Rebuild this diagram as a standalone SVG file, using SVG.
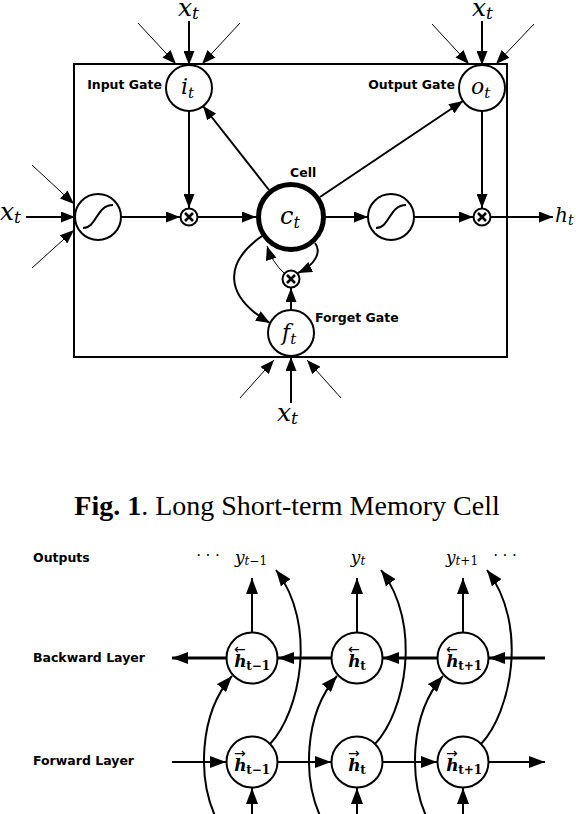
<svg xmlns="http://www.w3.org/2000/svg" width="576" height="814" viewBox="0 0 576 814">
<style>
.ln{stroke:#000;stroke-width:2;fill:none}
.th{stroke:#000;stroke-width:1;fill:none}
.bk{stroke:#000;stroke-width:3;fill:none}
.nd{stroke:#000;stroke-width:2;fill:#fff}
.lbl{font-family:"DejaVu Sans",sans-serif;font-weight:bold;font-size:12.5px;fill:#000}
.m{font-family:"DejaVu Serif",serif;font-style:italic;fill:#000}
.hb{font-family:"DejaVu Serif",serif;font-style:italic;font-weight:bold;font-size:17px;fill:#000}
.hs{font-family:"DejaVu Serif",serif;font-style:normal;font-weight:bold;font-size:12px}
.arw{font-family:"DejaVu Sans",sans-serif;font-style:normal;font-weight:normal;font-size:14px}
</style>
<defs>
<marker id="a" markerUnits="userSpaceOnUse" markerWidth="14" markerHeight="11" refX="14" refY="5.5" orient="auto"><path d="M0,0L14,5.5L0,11z" fill="#000"/></marker>
<marker id="b" markerUnits="userSpaceOnUse" markerWidth="16" markerHeight="12" refX="16" refY="6" orient="auto"><path d="M0,0L16,6L0,12z" fill="#000"/></marker>
<g id="mul"><circle r="8.5" fill="#fff" stroke="#000" stroke-width="2"/><path d="M-4,-4L4,4M4,-4L-4,4" stroke="#000" stroke-width="2.6"/></g>
</defs>
<rect width="576" height="814" fill="#fff"/>

<!-- LSTM cell -->
<rect id="box" x="74" y="64" width="433" height="293" fill="none" stroke="#000" stroke-width="2"/>

<g id="connectors-top">
<line class="ln" x1="189" y1="21" x2="189" y2="65" marker-end="url(#a)"/>
<line class="th" x1="138" y1="23" x2="176" y2="64" marker-end="url(#a)"/>
<line class="th" x1="240" y1="23" x2="202" y2="64" marker-end="url(#a)"/>
<line class="ln" x1="482" y1="21" x2="482" y2="65" marker-end="url(#a)"/>
<line class="th" x1="432" y1="24" x2="469" y2="64" marker-end="url(#a)"/>
<line class="th" x1="534" y1="24" x2="496" y2="64" marker-end="url(#a)"/>
<line class="ln" x1="26" y1="217" x2="75" y2="217" marker-end="url(#a)"/>
<line class="th" x1="32" y1="165" x2="74" y2="204" marker-end="url(#a)"/>
<line class="th" x1="32" y1="268" x2="74" y2="230" marker-end="url(#a)"/>
<line class="ln" x1="121" y1="217" x2="180" y2="217" marker-end="url(#a)"/>
<line class="ln" x1="189" y1="111" x2="189" y2="208" marker-end="url(#a)"/>
<line class="ln" x1="198" y1="217" x2="256" y2="217" marker-end="url(#a)"/>
<line class="ln" x1="269" y1="190" x2="203" y2="106" marker-end="url(#a)"/>
<line class="ln" x1="320" y1="197" x2="463" y2="101" marker-end="url(#a)"/>
<line class="ln" x1="326" y1="217" x2="368" y2="217" marker-end="url(#a)"/>
<line class="ln" x1="414" y1="217" x2="473" y2="217" marker-end="url(#a)"/>
<line class="ln" x1="482" y1="111" x2="482" y2="208" marker-end="url(#a)"/>
<line class="ln" x1="491" y1="217" x2="553" y2="217" marker-end="url(#a)"/>
<path class="ln" d="M262,236C225,262 222,295 270,323" marker-end="url(#a)"/>
<line class="ln" x1="291" y1="310" x2="291" y2="288" marker-end="url(#a)"/>
<path class="th" d="M284,273Q272,262 267,246" marker-end="url(#a)"/>
<path class="ln" d="M315,243C322,252 315,265 298,273" marker-end="url(#a)"/>
<line class="ln" x1="291" y1="403" x2="291" y2="357" marker-end="url(#a)"/>
<line class="th" x1="240" y1="398" x2="274" y2="360" marker-end="url(#a)"/>
<line class="th" x1="341" y1="398" x2="307" y2="360" marker-end="url(#a)"/>
</g>

<g id="input-gate"><circle class="nd" cx="189" cy="88" r="23"/><text class="m" x="181" y="94" font-size="22">i<tspan font-size="15" dy="4">t</tspan></text><text class="lbl" x="162" y="89" text-anchor="end">Input Gate</text></g>
<g id="output-gate"><circle class="nd" cx="482" cy="88" r="23"/><text class="m" x="471" y="94" font-size="22">o<tspan font-size="15" dy="4">t</tspan></text><text class="lbl" x="455" y="89" text-anchor="end">Output Gate</text></g>
<g id="sig-in"><circle class="nd" cx="98" cy="217" r="23"/><path class="ln" d="M83,228C97,228 96,205 113,205"/></g>
<g id="mul-in"><use href="#mul" x="189" y="217"/></g>
<g id="cell"><circle cx="291" cy="217" r="32.5" fill="#fff" stroke="#000" stroke-width="5"/><text class="m" x="280" y="224" font-size="24">c<tspan font-size="16" dy="4">t</tspan></text><text class="lbl" x="290" y="177">Cell</text></g>
<g id="sig-out"><circle class="nd" cx="391" cy="217" r="23"/><path class="ln" d="M376,228C390,228 389,205 406,205"/></g>
<g id="mul-out"><use href="#mul" x="482" y="217"/></g>
<g id="mul-forget"><use href="#mul" x="291" y="279"/></g>
<g id="forget-gate"><circle class="nd" cx="291" cy="333" r="23"/><text class="m" x="282" y="340" font-size="22">f<tspan font-size="15" dy="4">t</tspan></text><text class="lbl" x="315" y="322">Forget Gate</text></g>

<g id="labels-top">
<text class="m" x="178" y="16" font-size="25">x<tspan font-size="17" dy="3">t</tspan></text>
<text class="m" x="472" y="16" font-size="25">x<tspan font-size="17" dy="3">t</tspan></text>
<text class="m" x="0" y="220" font-size="25">x<tspan font-size="17" dy="3">t</tspan></text>
<text class="m" x="277" y="421" font-size="25">x<tspan font-size="17" dy="3">t</tspan></text>
<text class="m" x="555" y="222" font-size="20">h<tspan font-size="14" dy="3">t</tspan></text>
</g>

<text x="287" y="515" text-anchor="middle" font-family="Liberation Serif,serif" font-size="28"><tspan font-weight="bold">Fig. 1</tspan>. Long Short-term Memory Cell</text>

<!-- BRNN -->
<g id="row-labels">
<text class="lbl" x="33" y="562" font-size="12">Outputs</text>
<text class="lbl" x="33" y="662">Backward Layer</text>
<text class="lbl" x="33" y="765">Forward Layer</text>
</g>
<g id="outputs">
<text x="208" y="561" text-anchor="middle" font-family="Liberation Serif,serif" font-size="16">· · ·</text>
<text class="m" x="251" y="563" text-anchor="middle" font-size="17">y<tspan font-size="12" dy="2">t</tspan><tspan font-size="12" font-style="normal">−1</tspan></text>
<text class="m" x="358" y="563" text-anchor="middle" font-size="17">y<tspan font-size="12" dy="2">t</tspan></text>
<text class="m" x="462" y="563" text-anchor="middle" font-size="17">y<tspan font-size="12" dy="2">t</tspan><tspan font-size="12" font-style="normal">+1</tspan></text>
<text x="505" y="561" text-anchor="middle" font-family="Liberation Serif,serif" font-size="16">· · ·</text>
</g>

<g id="connectors-bottom">
<line class="ln" x1="252" y1="632" x2="252" y2="578" marker-end="url(#b)"/>
<line class="ln" x1="357" y1="632" x2="357" y2="578" marker-end="url(#b)"/>
<line class="ln" x1="463" y1="632" x2="463" y2="578" marker-end="url(#b)"/>
<line class="bk" x1="545" y1="658" x2="489" y2="658" marker-end="url(#b)"/>
<line class="bk" x1="437" y1="658" x2="383" y2="658" marker-end="url(#b)"/>
<line class="bk" x1="331" y1="658" x2="278" y2="658" marker-end="url(#b)"/>
<line class="bk" x1="226" y1="658" x2="172" y2="658" marker-end="url(#b)"/>
<line class="ln" x1="172" y1="762" x2="226" y2="762" marker-end="url(#b)"/>
<line class="ln" x1="278" y1="762" x2="331" y2="762" marker-end="url(#b)"/>
<line class="ln" x1="383" y1="762" x2="437" y2="762" marker-end="url(#b)"/>
<line class="ln" x1="489" y1="762" x2="545" y2="762" marker-end="url(#b)"/>
<line class="ln" x1="252" y1="816" x2="252" y2="788" marker-end="url(#b)"/>
<line class="ln" x1="357" y1="816" x2="357" y2="788" marker-end="url(#b)"/>
<line class="ln" x1="463" y1="816" x2="463" y2="788" marker-end="url(#b)"/>
<path class="ln" d="M270,744C300,712 318,625 276,570" marker-end="url(#b)"/>
<path class="ln" d="M375,744C405,712 423,625 381,570" marker-end="url(#b)"/>
<path class="ln" d="M481,744C511,712 529,625 487,570" marker-end="url(#b)"/>
<path class="ln" d="M216,818C198,780 198,715 232,676" marker-end="url(#b)"/>
<path class="ln" d="M321,818C303,780 303,715 337,676" marker-end="url(#b)"/>
<path class="ln" d="M427,818C409,780 409,715 443,676" marker-end="url(#b)"/>
</g>

<g id="b1"><circle class="nd" cx="252" cy="658" r="25.5"/><text class="hb" x="234" y="667">h<tspan class="arw" dx="-12.5" dy="-13">←</tspan><tspan class="hs" dx="0.5" dy="16">t−1</tspan></text></g>
<g id="b2"><circle class="nd" cx="357" cy="658" r="25.5"/><text class="hb" x="348" y="667">h<tspan class="arw" dx="-12.5" dy="-13">←</tspan><tspan class="hs" dx="0.5" dy="16">t</tspan></text></g>
<g id="b3"><circle class="nd" cx="463" cy="658" r="25.5"/><text class="hb" x="446" y="667">h<tspan class="arw" dx="-12.5" dy="-13">←</tspan><tspan class="hs" dx="0.5" dy="16">t+1</tspan></text></g>
<g id="f1"><circle class="nd" cx="252" cy="762" r="25.5"/><text class="hb" x="234" y="771">h<tspan class="arw" dx="-12.5" dy="-13">→</tspan><tspan class="hs" dx="0.5" dy="16">t−1</tspan></text></g>
<g id="f2"><circle class="nd" cx="357" cy="762" r="25.5"/><text class="hb" x="348" y="771">h<tspan class="arw" dx="-12.5" dy="-13">→</tspan><tspan class="hs" dx="0.5" dy="16">t</tspan></text></g>
<g id="f3"><circle class="nd" cx="463" cy="762" r="25.5"/><text class="hb" x="446" y="771">h<tspan class="arw" dx="-12.5" dy="-13">→</tspan><tspan class="hs" dx="0.5" dy="16">t+1</tspan></text></g>
</svg>
